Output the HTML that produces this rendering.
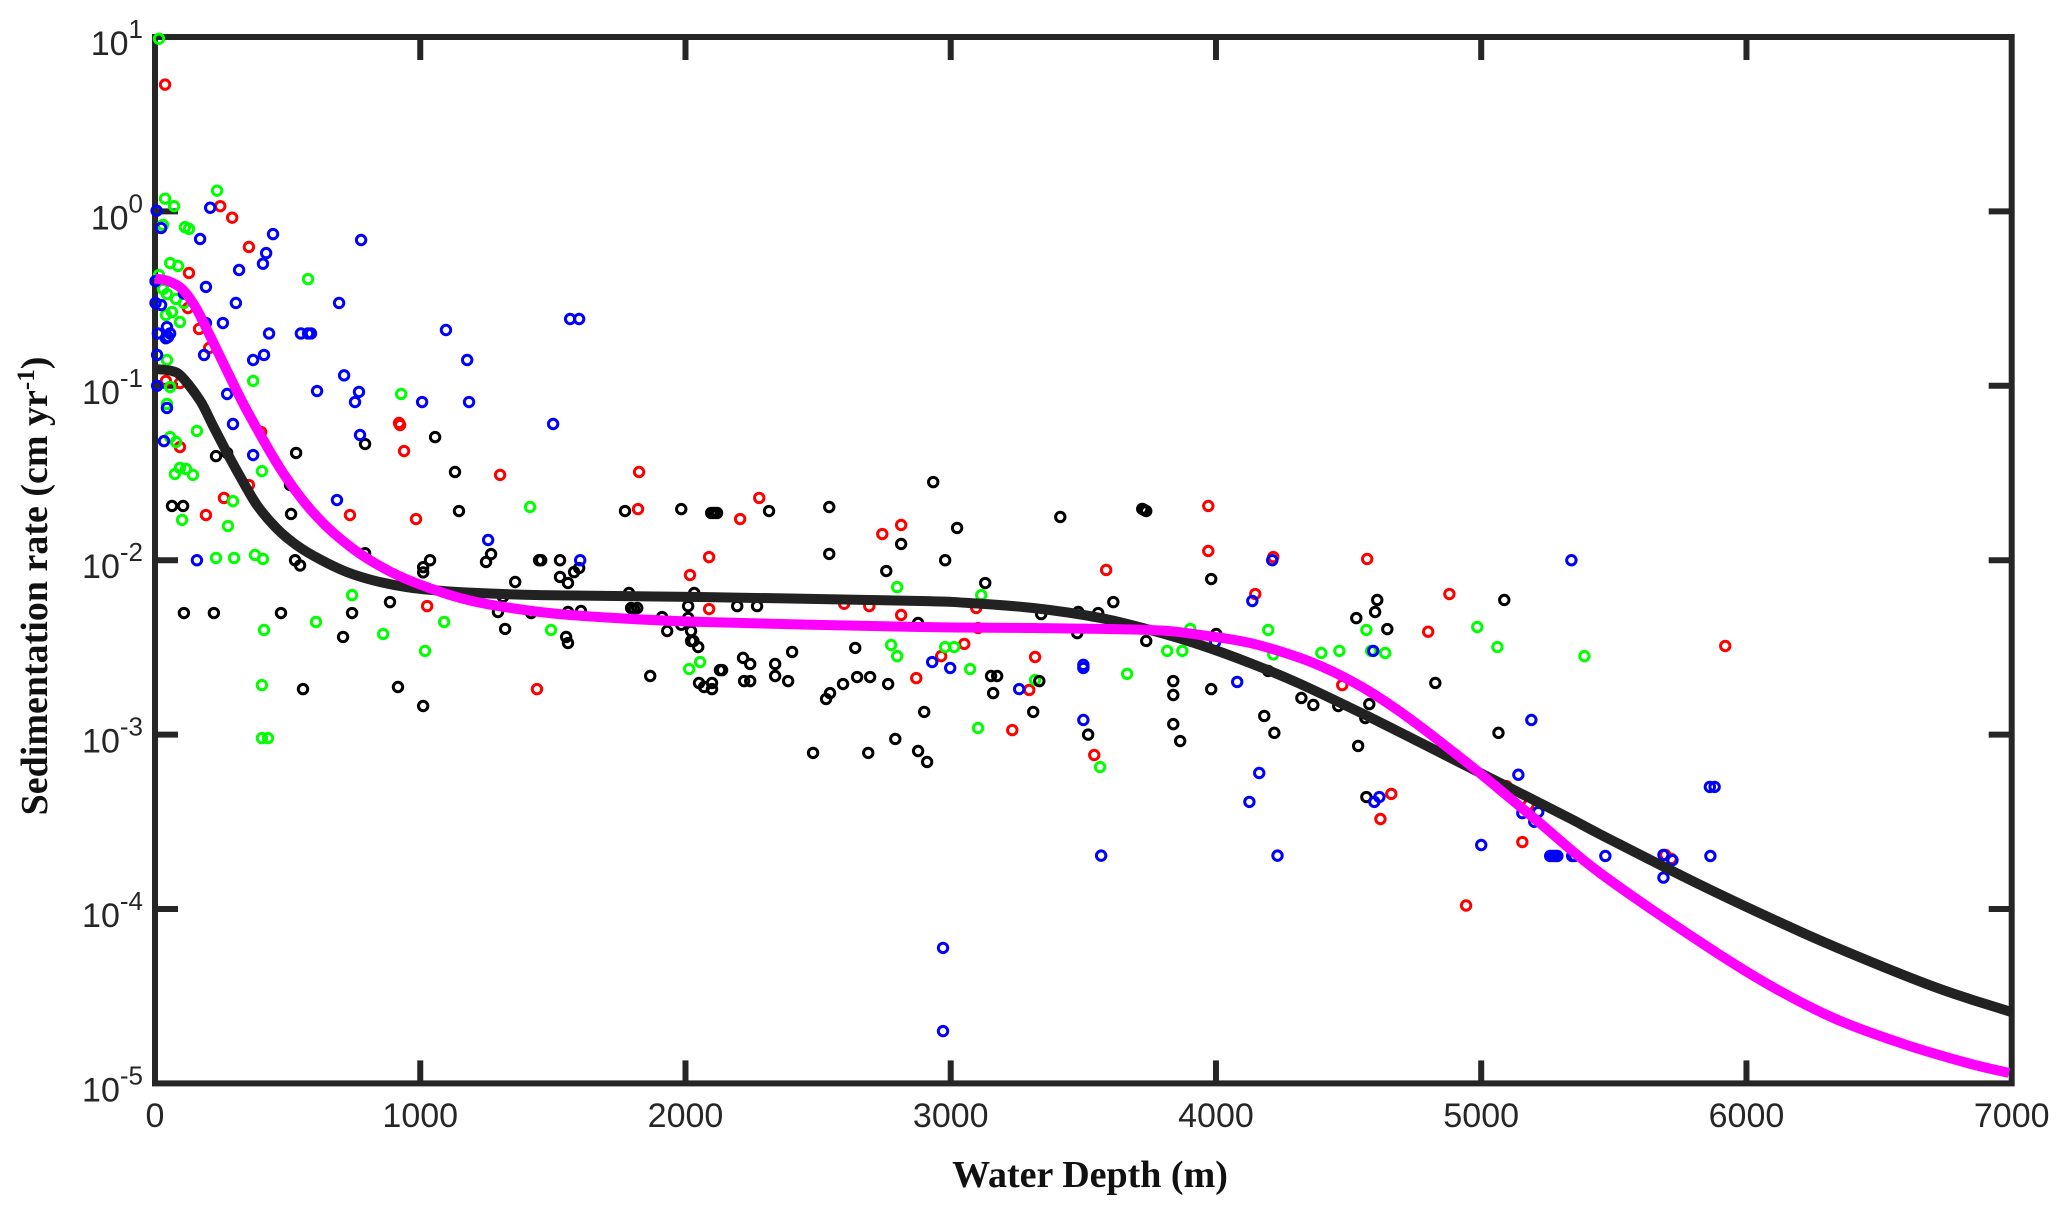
<!DOCTYPE html>
<html lang="en">
<head>
<meta charset="utf-8">
<title>Sedimentation rate vs water depth</title>
<style>
html,body{margin:0;padding:0;background:#fff;width:2067px;height:1214px;overflow:hidden}
svg{display:block}
.tick-text{font-family:"Liberation Sans",Arial,sans-serif;font-size:34px;fill:#262626}
.axis-title{font-family:"Liberation Serif","Times New Roman",serif;font-size:38px;font-weight:bold;fill:#111}
</style>
</head>
<body>
<svg id="chart" xmlns="http://www.w3.org/2000/svg" width="2067" height="1214" viewBox="0 0 2067 1214">
  <rect x="0" y="0" width="2067" height="1214" fill="#fff"/>
  <g id="axes"></g>
  <g id="marks"></g>
  <g id="curves"></g>
  <text class="axis-title" x="1090" y="1187" text-anchor="middle">Water Depth (m)</text>
  <text class="axis-title" transform="translate(47,586) rotate(-90)" text-anchor="middle">Sedimentation rate (cm yr<tspan font-size="25" dy="-13">-1</tspan><tspan dy="13">)</tspan></text>
</svg>
<script>
// Data: each pair is [water depth in m, log10 of sedimentation rate in cm/yr]
const xTicks = [0, 1000, 2000, 3000, 4000, 5000, 6000, 7000];
const yTickExponents = [1, 0, -1, -2, -3, -4, -5];

const redPoints = [[38,.727],[246,.03],[291,-.036],[354,-.204],[128,-.353],[124,-.554],[166,-.674],[204,-.783],[41,-.972],[94,-.984],[920,-1.213],[400,-1.265],[94,-1.351],[924,-1.225],[939,-1.374],[1301,-1.511],[354,-1.569],[260,-1.643],[192,-1.741],[735,-1.741],[984,-1.764],[1026,-2.263],[1440,-2.739],[1825,-1.494],[1821,-1.707],[2206,-1.764],[2278,-1.643],[2742,-1.85],[2813,-1.798],[2089,-1.982],[2017,-2.085],[2089,-2.28],[2598,-2.25],[2693,-2.263],[2813,-2.314],[2964,-2.55],[2870,-2.676],[3971,-1.689],[3971,-1.947],[3586,-2.056],[4216,-1.982],[4148,-2.194],[3096,-2.274],[3103,-2.389],[3051,-2.48],[3318,-2.555],[3296,-2.744],[3232,-2.974],[3541,-3.117],[4570,-1.993],[4880,-2.194],[4800,-2.41],[4476,-2.716],[4661,-3.34],[4620,-3.484],[5095,-3.295],[5178,-3.404],[5155,-3.616],[5694,-3.69],[5717,-3.713],[5920,-2.492],[4943,-3.98]];

const greenPoints = [[15,.99],[38,.073],[72,.03],[234,.119],[30,-.078],[113,-.09],[128,-.1],[57,-.296],[87,-.313],[577,-.388],[15,-.365],[45,-.474],[30,-.445],[79,-.502],[109,-.525],[64,-.577],[41,-.594],[94,-.634],[45,-.852],[370,-.972],[57,-1.007],[928,-1.047],[45,-1.104],[158,-1.259],[57,-1.294],[79,-1.322],[403,-1.489],[75,-1.506],[94,-1.471],[117,-1.477],[143,-1.511],[294,-1.661],[102,-1.769],[275,-1.804],[1414,-1.695],[230,-1.987],[298,-1.987],[377,-1.97],[407,-1.993],[743,-2.2],[1090,-2.354],[411,-2.4],[607,-2.354],[860,-2.423],[1018,-2.52],[403,-2.716],[403,-3.02],[426,-3.02],[1493,-2.4],[2798,-2.154],[2775,-2.486],[2798,-2.55],[2014,-2.624],[2055,-2.584],[2979,-2.498],[3013,-2.498],[3115,-2.2],[4197,-2.4],[3903,-2.394],[3073,-2.624],[3318,-2.687],[3103,-2.962],[3665,-2.652],[3816,-2.52],[3873,-2.52],[3563,-3.186],[4216,-2.54],[4397,-2.532],[4567,-2.4],[4985,-2.383],[5061,-2.498],[5389,-2.55],[4465,-2.52],[4585,-2.52],[4638,-2.532]];

const blackPoints = [[230,-1.403],[272,-1.385],[532,-1.385],[792,-1.334],[1056,-1.294],[1131,-1.494],[509,-1.569],[64,-1.689],[106,-1.689],[513,-1.735],[1146,-1.718],[528,-2],[547,-2.03],[792,-1.96],[1037,-2],[1011,-2.04],[1011,-2.07],[1267,-1.965],[1248,-2.01],[1448,-2],[1358,-2.125],[1312,-2.21],[886,-2.24],[1293,-2.297],[1418,-2.303],[1320,-2.394],[109,-2.303],[222,-2.303],[475,-2.303],[743,-2.303],[709,-2.44],[558,-2.739],[916,-2.727],[1011,-2.836],[1772,-1.718],[1984,-1.707],[2097,-1.729],[2119,-1.729],[2108,-1.729],[2315,-1.718],[2542,-1.695],[2542,-1.964],[2813,-1.907],[2757,-2.062],[1456,-2],[1527,-2],[1599,-2.045],[1580,-2.068],[1527,-2.096],[1557,-2.131],[1787,-2.188],[2033,-2.188],[1795,-2.274],[1818,-2.274],[1806,-2.28],[2010,-2.263],[2195,-2.263],[2270,-2.263],[1606,-2.291],[1557,-2.297],[1912,-2.326],[2010,-2.331],[1550,-2.44],[1557,-2.475],[1931,-2.406],[1984,-2.37],[2021,-2.406],[2021,-2.463],[2030,-2.463],[2048,-2.498],[2402,-2.526],[2640,-2.503],[2217,-2.56],[2244,-2.595],[2338,-2.595],[2877,-2.36],[1867,-2.664],[2130,-2.63],[2138,-2.63],[2051,-2.704],[2070,-2.727],[2100,-2.704],[2100,-2.739],[2221,-2.693],[2244,-2.693],[2338,-2.664],[2387,-2.693],[2530,-2.796],[2545,-2.762],[2594,-2.71],[2647,-2.67],[2696,-2.67],[2764,-2.71],[2900,-2.87],[2791,-3.025],[2481,-3.105],[2689,-3.105],[2877,-3.094],[2911,-3.157],[2934,-1.552],[3024,-1.815],[2979,-2],[3413,-1.752],[3722,-1.706],[3730,-1.712],[3737,-1.718],[3982,-2.108],[3130,-2.131],[3613,-2.24],[3341,-2.309],[3481,-2.297],[3556,-2.303],[3477,-2.418],[3737,-2.463],[4001,-2.423],[3152,-2.664],[3175,-2.664],[3160,-2.762],[3334,-2.693],[3311,-2.87],[3839,-2.693],[3839,-2.773],[3982,-2.739],[3839,-2.94],[3865,-3.037],[3518,-3],[4182,-2.893],[4220,-2.99],[4197,-2.635],[4322,-2.79],[4367,-2.83],[4608,-2.228],[4600,-2.297],[4529,-2.332],[4646,-2.395],[5087,-2.228],[4827,-2.704],[4578,-2.825],[4461,-2.836],[4563,-2.905],[4536,-3.065],[5065,-2.99],[4567,-3.358]];

const bluePoints = [[6,.004],[208,.021],[23,-.095],[170,-.158],[445,-.13],[777,-.164],[419,-.239],[407,-.3],[317,-.336],[2,-.4],[192,-.433],[109,-.47],[305,-.525],[694,-.525],[2,-.525],[23,-.537],[192,-.64],[256,-.64],[45,-.663],[11,-.7],[57,-.7],[49,-.72],[41,-.727],[430,-.7],[550,-.7],[577,-.7],[588,-.7],[1097,-.68],[1177,-.852],[8,-.823],[185,-.823],[411,-.823],[370,-.852],[713,-.94],[8,-1],[272,-1.047],[611,-1.03],[769,-1.035],[754,-1.093],[1007,-1.093],[1184,-1.093],[45,-1.127],[294,-1.219],[34,-1.317],[370,-1.397],[773,-1.282],[686,-1.655],[1256,-1.884],[158,-2],[1565,-.617],[1599,-.617],[1501,-1.219],[1603,-2],[2930,-2.584],[2998,-2.618],[4212,-2],[4137,-2.234],[3997,-2.469],[3258,-2.739],[3500,-2.6],[3500,-2.618],[4080,-2.698],[3500,-2.916],[4163,-3.22],[4126,-3.386],[5340,-2],[4593,-2.52],[5189,-2.916],[5140,-3.23],[5862,-3.3],[5880,-3.3],[4616,-3.358],[4597,-3.386],[5155,-3.45],[5215,-3.444],[5200,-3.5],[5260,-3.696],[5270,-3.696],[5280,-3.696],[5287,-3.696],[5343,-3.696],[5351,-3.696],[5468,-3.696],[5687,-3.69],[5721,-3.72],[5864,-3.696],[5687,-3.82],[5000,-3.633],[4232,-3.694],[3567,-3.694],[2971,-4.223],[2971,-4.7]];

const blackCurve = [[8,-.905],[64,-.915],[102,-.95],[170,-1.085],[219,-1.23],[272,-1.385],[321,-1.52],[385,-1.685],[460,-1.82],[535,-1.915],[622,-1.995],[724,-2.068],[822,-2.115],[950,-2.155],[1075,-2.175],[1199,-2.187],[1452,-2.2],[2055,-2.211],[2885,-2.234],[3062,-2.245],[3311,-2.274],[3564,-2.331],[3752,-2.4],[3941,-2.486],[4129,-2.59],[4318,-2.71],[4570,-2.893],[4819,-3.083],[5072,-3.278],[5325,-3.473],[5449,-3.572],[5826,-3.862],[6203,-4.13],[6456,-4.295],[6705,-4.445],[6850,-4.52],[7000,-4.591]];

const magentaCurve = [[0,-.385],[49,-.399],[102,-.445],[151,-.545],[200,-.69],[275,-.925],[351,-1.155],[483,-1.5],[611,-1.752],[747,-1.935],[886,-2.065],[1026,-2.155],[1199,-2.235],[1452,-2.297],[1678,-2.326],[2055,-2.354],[2885,-2.383],[3311,-2.389],[3752,-2.4],[3941,-2.429],[4129,-2.475],[4318,-2.561],[4442,-2.64],[4570,-2.745],[4695,-2.87],[4819,-3.01],[4948,-3.163],[5072,-3.318],[5223,-3.51],[5449,-3.795],[5826,-4.19],[6079,-4.43],[6328,-4.625],[6580,-4.768],[6833,-4.883],[6990,-4.94]];

const NS = 'http://www.w3.org/2000/svg';
const plot = { left: 155, right: 2011.7, top: 37, bottom: 1083.4 };
const xMax = 7000, logMax = 1, logMin = -5;

function xScale(depth) {
  return plot.left + (depth / xMax) * (plot.right - plot.left);
}
function yScale(logRate) {
  return plot.top + ((logMax - logRate) / (logMax - logMin)) * (plot.bottom - plot.top);
}
function mk(tag, attrs, parent) {
  const el = document.createElementNS(NS, tag);
  for (const k in attrs) el.setAttribute(k, attrs[k]);
  parent.appendChild(el);
  return el;
}

const axes = document.getElementById('axes');
const marks = document.getElementById('marks');
const curves = document.getElementById('curves');
const axisColor = '#262626';

// Plot frame
const frame = mk('rect', { x: plot.left, y: plot.top, width: plot.right - plot.left, height: plot.bottom - plot.top, fill: 'none', stroke: axisColor, 'stroke-width': 6 }, axes);



// X ticks and labels
xTicks.forEach(function (v) {
  const x = xScale(v);
  if (v > 0 && v < xMax) {
    const t1 = mk('line', { x1: x, x2: x, y1: plot.bottom, y2: plot.bottom - 23, stroke: axisColor, 'stroke-width': 6 }, axes);
    
    
    const t2 = mk('line', { x1: x, x2: x, y1: plot.top, y2: plot.top + 23, stroke: axisColor, 'stroke-width': 6 }, axes);
    
    
  }
  const label = mk('text', { x: x, y: 1127, 'text-anchor': 'middle', class: 'tick-text' }, axes);
  
  
  label.textContent = String(v);
});

// Y ticks and labels
yTickExponents.forEach(function (e) {
  const y = yScale(e);
  if (e < logMax && e > logMin) {
    const t1 = mk('line', { x1: plot.left, x2: plot.left + 23, y1: y, y2: y, stroke: axisColor, 'stroke-width': 6 }, axes);
    
    
    const t2 = mk('line', { x1: plot.right, x2: plot.right - 23, y1: y, y2: y, stroke: axisColor, 'stroke-width': 6 }, axes);
    
    
  }
  const label = mk('text', { x: 143, y: y + 18, 'text-anchor': 'end', class: 'tick-text' }, axes);
  
  
  label.appendChild(document.createTextNode('10'));
  const sup = mk('tspan', { dy: -17, 'font-size': 26 }, label);
  sup.textContent = String(e);
});

// Scatter markers
function drawPoints(points, color, name) {
  points.forEach(function (p) {
    const c = mk('circle', { cx: xScale(p[0]), cy: yScale(p[1]), r: 4.7, fill: 'none', stroke: color, 'stroke-width': 3 }, marks);
    
    
  });
}
drawPoints(redPoints, '#ff0000', 'red-data-point');
drawPoints(greenPoints, '#00ff00', 'green-data-point');
drawPoints(blackPoints, '#000000', 'black-data-point');
drawPoints(bluePoints, '#0000ff', 'blue-data-point');

// Fit curves
function curvePath(points) {
  const pts = points.map(function (p) { return [xScale(p[0]), yScale(p[1])]; });
  let d = 'M' + pts[0][0].toFixed(1) + ' ' + pts[0][1].toFixed(1);
  for (let i = 0; i < pts.length - 1; i++) {
    const p0 = pts[Math.max(i - 1, 0)], p1 = pts[i], p2 = pts[i + 1], p3 = pts[Math.min(i + 2, pts.length - 1)];
    const c1x = p1[0] + (p2[0] - p0[0]) / 6, c1y = p1[1] + (p2[1] - p0[1]) / 6;
    const c2x = p2[0] - (p3[0] - p1[0]) / 6, c2y = p2[1] - (p3[1] - p1[1]) / 6;
    d += 'C' + c1x.toFixed(1) + ' ' + c1y.toFixed(1) + ' ' + c2x.toFixed(1) + ' ' + c2y.toFixed(1) + ' ' + p2[0].toFixed(1) + ' ' + p2[1].toFixed(1);
  }
  return d;
}
const blackLine = mk('path', { d: curvePath(blackCurve), fill: 'none', stroke: '#222222', 'stroke-width': 10 }, curves);


const magentaLine = mk('path', { d: curvePath(magentaCurve), fill: 'none', stroke: '#ff00ff', 'stroke-width': 10 }, curves);


</script>
</body>
</html>
